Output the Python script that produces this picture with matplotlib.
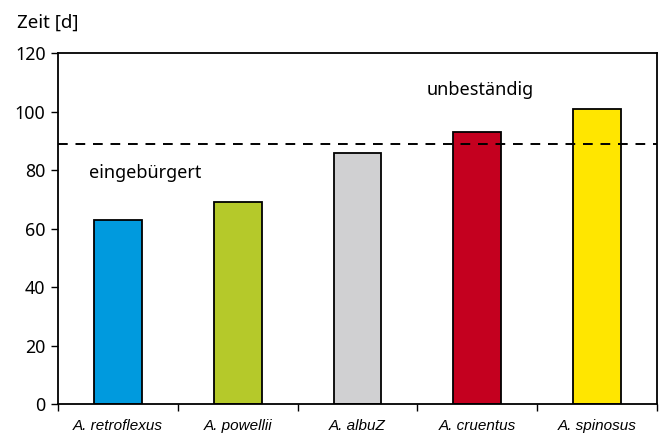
import matplotlib
matplotlib.use("Agg")
import matplotlib.pyplot as plt
import numpy as np

# Species and days until the threshold is reached
species = ["A. retroflexus", "A. powellii", "A. albuZ", "A. cruentus", "A. spinosus"]
days = [63, 69, 86, 93, 101]
bar_colors = ["#009ADE", "#B5C92A", "#D0D0D2", "#C4001F", "#FFE600"]
threshold = 89
y_ticks = [0, 20, 40, 60, 80, 100, 120]

fig = plt.figure(figsize=(6.63, 4.34), dpi=100)
ax = fig.add_axes([0.0875, 0.069, 0.9035, 0.808])

x = np.arange(len(species))
ax.bar(x, days, width=0.4, color=bar_colors, edgecolor="black", linewidth=1.3, zorder=2)
ax.axhline(threshold, color="black", linestyle=(0, (5, 4)), linewidth=1.4, zorder=3)

ax.set_xlim(-0.5, len(species) - 0.5)
ax.set_ylim(0, 120)
ax.set_yticks(y_ticks)
ax.set_yticklabels([str(v) for v in y_ticks], fontfamily="Noto Sans", fontsize=12.8)

# Category labels centered, ticks at the boundaries
ax.set_xticks(x)
ax.set_xticklabels(species, fontfamily="Liberation Sans", fontstyle="italic", fontsize=11)
ax.tick_params(axis="x", which="major", length=0, pad=11)
ax.set_xticks(np.arange(len(species) + 1) - 0.5, minor=True)
ax.tick_params(axis="x", which="minor", length=5, width=1.0, direction="out")
ax.tick_params(axis="y", length=5, width=1.0, direction="out", pad=4)

for s in ax.spines.values():
    s.set_linewidth(1.3)

ax.text(-0.24, 79, "eingebürgert", fontfamily="Noto Sans", fontsize=13, va="center", ha="left")
ax.text(2.58, 107.5, "unbeständig", fontfamily="Noto Sans", fontsize=13, va="center", ha="left")
fig.text(0.026, 0.947, "Zeit [d]", fontfamily="Noto Sans", fontsize=13.5, va="center", ha="left")

fig.savefig("out.png", dpi=100)
